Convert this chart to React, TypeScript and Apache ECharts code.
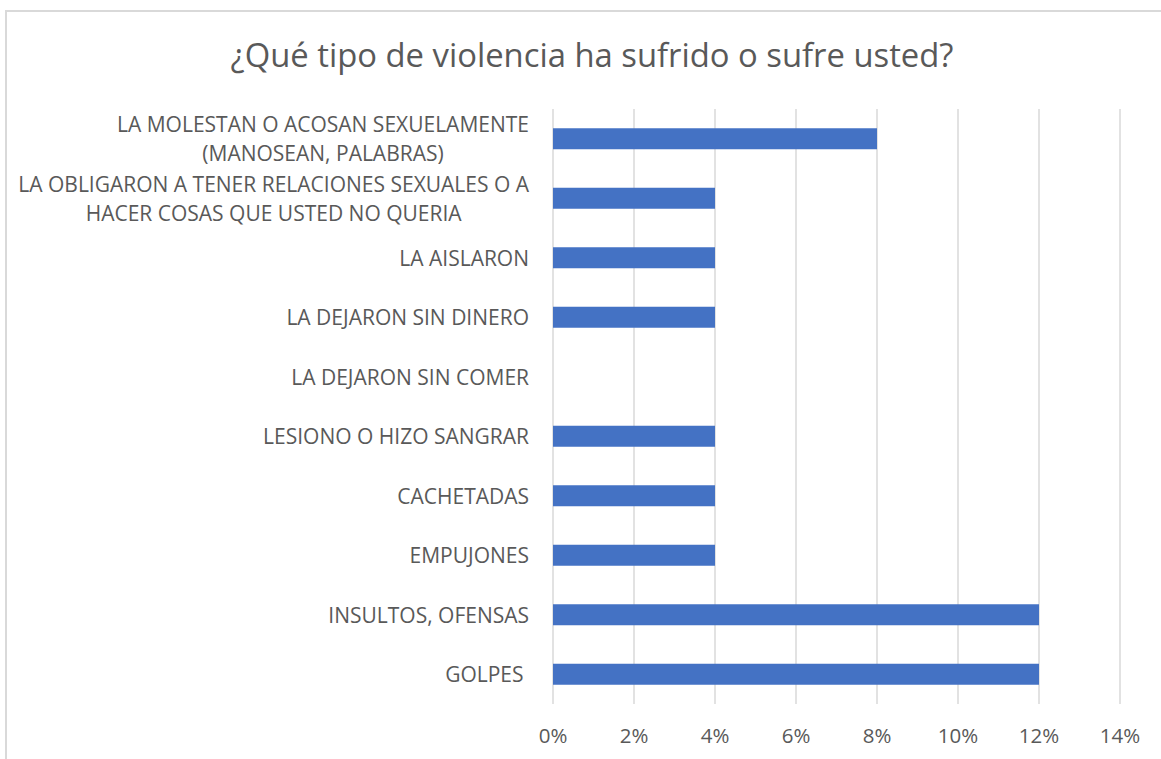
import React, { useEffect, useRef } from "react";
import * as echarts from "echarts";

const categories = [
  "LA MOLESTAN O ACOSAN SEXUELAMENTE\n(MANOSEAN, PALABRAS)",
  "LA OBLIGARON A TENER RELACIONES SEXUALES O A\nHACER COSAS QUE USTED NO QUERIA",
  "LA AISLARON",
  "LA DEJARON SIN DINERO",
  "LA DEJARON SIN COMER",
  "LESIONO O HIZO SANGRAR",
  "CACHETADAS",
  "EMPUJONES",
  "INSULTOS, OFENSAS",
  "GOLPES ",
];
const values = [0.08, 0.04, 0.04, 0.04, 0, 0.04, 0.04, 0.04, 0.12, 0.12];
const titleText = "¿Qué tipo de violencia ha sufrido o sufre usted?";

const FONT = "'Open Sans', sans-serif";
const TEXT = "#595959";

export default function App() {
  const ref = useRef<HTMLDivElement>(null);
  useEffect(() => {
    if (!ref.current) return;
    const chart = echarts.init(ref.current, undefined, { renderer: "svg" });
    chart.setOption({
      animation: false,
      backgroundColor: "#ffffff",
      title: {
        text: titleText,
        left: 587,
        textAlign: "center",
        top: 33,
        textStyle: { fontFamily: FONT, fontSize: 32.8, fontWeight: "normal", color: TEXT },
      },
      graphic: [
        {
          type: "rect",
          shape: { x: 6, y: 11, width: 1300, height: 900 },
          style: { fill: "none", stroke: "#d9d9d9", lineWidth: 2 },
          silent: true,
        },
      ],
      grid: { left: 553, right: 41, top: 109, bottom: 55, containLabel: false },
      xAxis: {
        type: "value",
        min: 0,
        max: 0.14,
        interval: 0.02,
        axisLine: { show: false },
        axisTick: { show: false },
        splitLine: { show: true, lineStyle: { color: "#d9d9d9", width: 1.5 } },
        axisLabel: {
          margin: 20,
          fontFamily: FONT,
          fontSize: 20.5,
          color: TEXT,
          formatter: (v: number) => Math.round(v * 100) + "%",
        },
      },
      yAxis: {
        type: "category",
        data: categories,
        inverse: true,
        axisLine: { show: false },
        axisTick: { show: false },
        axisLabel: {
          margin: 24,
          interval: 0,
          formatter: (v: string) => v.split("\n").map((l) => `{c|${l}}`).join("\n"),
          rich: {
            c: { align: "center", fontFamily: FONT, fontSize: 21, color: TEXT, lineHeight: 29 },
          },
        },
      },
      series: [
        {
          type: "bar",
          data: values,
          barWidth: 21,
          itemStyle: { color: "#4472c4" },
        },
      ],
    });
    return () => chart.dispose();
  }, []);
  return (
    <div
      ref={ref}
      style={{ position: "fixed", left: 0, top: 0, width: 1161, height: 759 }}
    />
  );
}
